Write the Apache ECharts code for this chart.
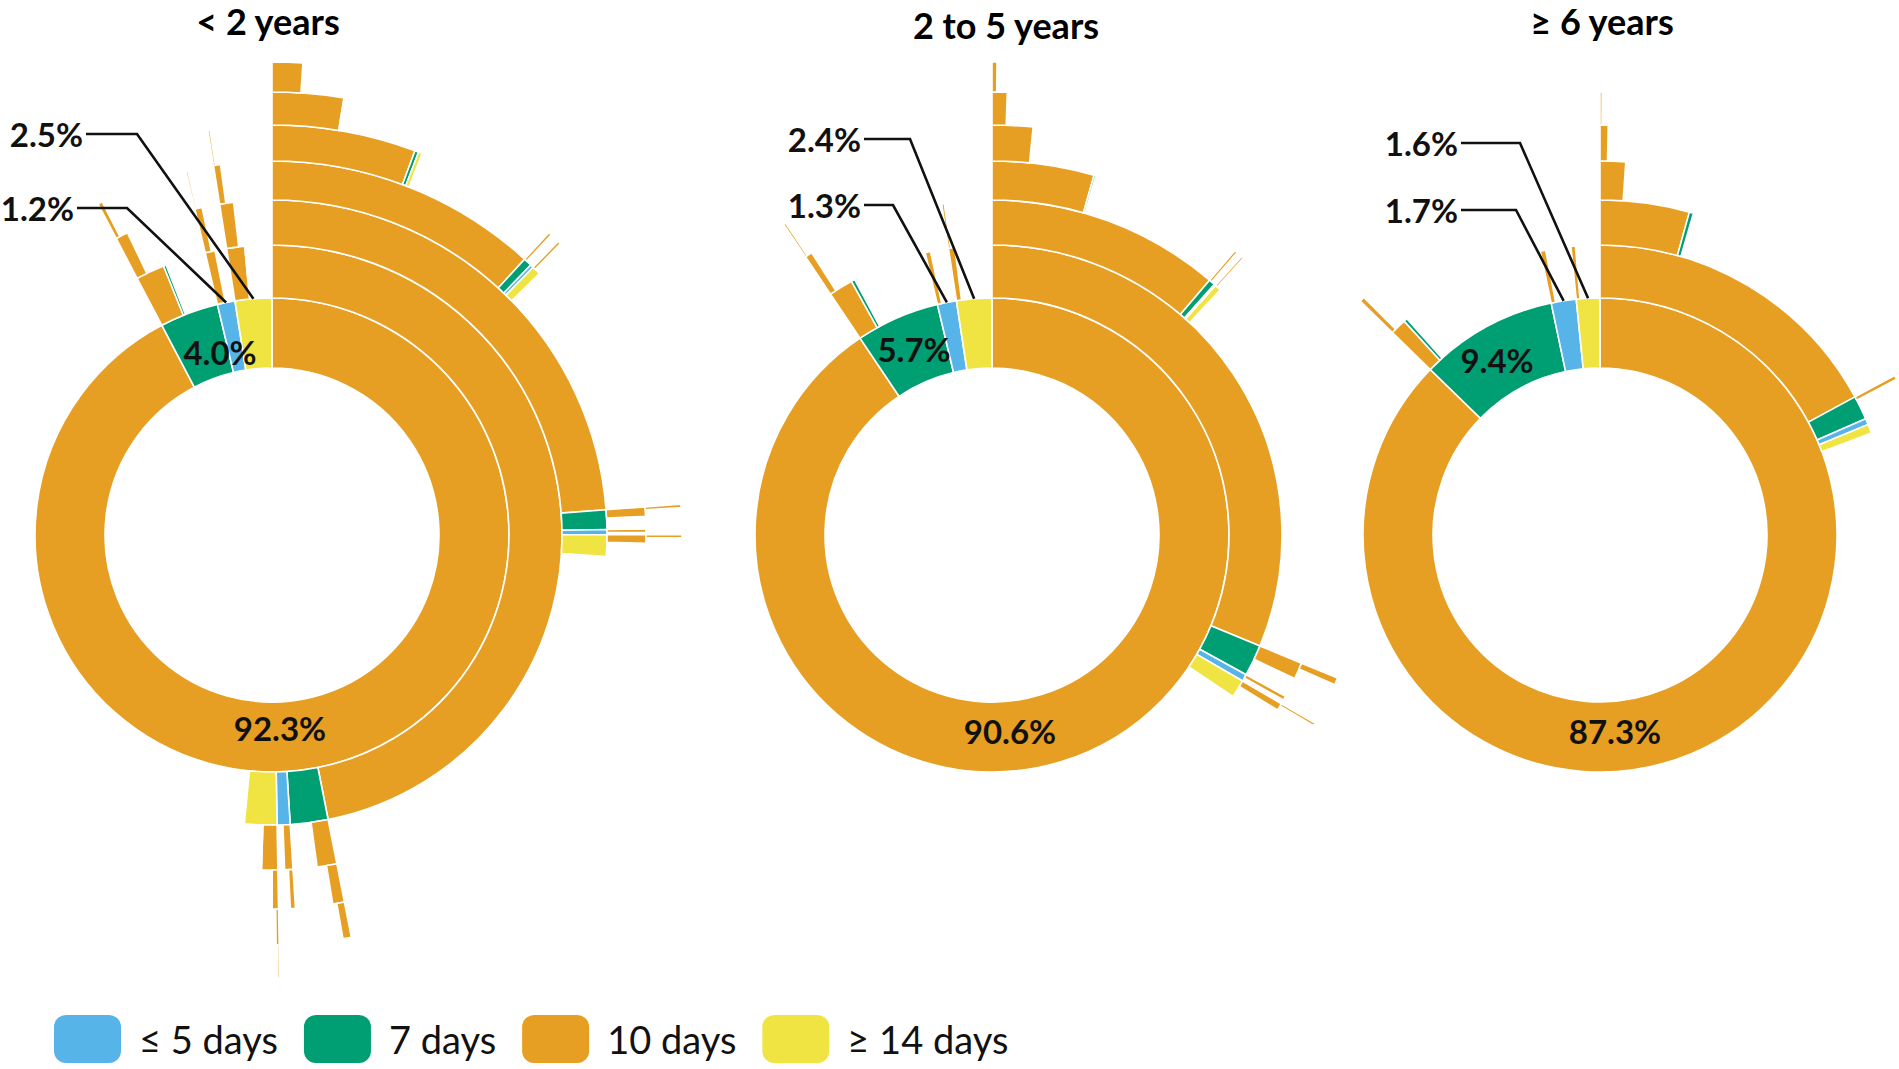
<!DOCTYPE html>
<html>
<head>
<meta charset="utf-8">
<script src="https://cdn.jsdelivr.net/npm/echarts@6/dist/echarts.min.js"></script>
<style>
html,body{margin:0;padding:0;background:#fff;}
#c{width:1899px;height:1069px;}
</style>
</head>
<body>
<div id="c"></div>
<script>
// ---------- DATA ----------
const categories = ['≤ 5 days', '7 days', '10 days', '≥ 14 days'];
const codes = ['S', 'W', 'T', 'L']; // S: ≤5 days, W: 7 days, T: 10 days, L: ≥14 days
const panelTitles = ['< 2 years', '2 to 5 years', '≥ 6 years'];

// Sequences of prescription durations (first.second.third...) and share (%) of all children
const paths1 = [
  'T','W','S','L',
  'T.T','T.W','T.S','T.L',
  'T.T.T','T.T.W','T.T.S','T.T.L',
  'T.T.T.T','T.T.T.W','T.T.T.S','T.T.T.L',
  'T.T.T.T.T','T.T.T.T.W','T.T.T.T.L',
  'T.T.T.T.T.T','T.T.T.T.T.W',
  'T.T.T.T.T.T.T',
  'T.T.T.W.T','T.T.T.S.T','T.T.T.L.T','T.T.T.L.T.T','T.T.T.T.W.T',
  'T.T.W.T','T.T.W.T.T','T.T.S.T','T.T.S.T.T','T.T.L.T','T.T.L.T.T',
  'T.W.T','T.W.T.T','T.W.T.T.T','T.S.T','T.S.T.T',
  'T.L.T','T.L.L','T.L.T.T','T.L.T.T.T','T.L.T.T.T.T',
  'W.T','W.W','W.T.T','W.T.T.T','W.T.T.T.T',
  'S.T','S.T.T','S.T.T.T',
  'L.T','L.L','L.T.T','L.T.T.T','L.T.T.T.T'
];
const shares1 = [
  92.3, 4.0, 1.2, 2.5,
  46.9, 2.1, 0.72, 1.8,
  23.8, 0.94, 0.25, 1.03,
  11.8, 0.36, 0.14, 0.38,
  5.67, 0.15, 0.15,
  2.6, 0.06,
  1.04,
  0.12, 0.04, 0.12, 0.05, 0.05,
  0.4, 0.13, 0.14, 0.03, 0.36, 0.12,
  0.95, 0.5, 0.33, 0.4, 0.22,
  0.78, 0.06, 0.27, 0.12, 0.07,
  1.6, 0.15, 0.6, 0.2, 0.06,
  0.55, 0.35, 0.08,
  1.0, 0.08, 0.67, 0.3, 0.08
];

const paths2 = [
  'T','W','S','L',
  'T.T','T.W','T.S','T.L',
  'T.T.T','T.T.W','T.T.S','T.T.L',
  'T.T.T.T','T.T.T.W',
  'T.T.T.T.T','T.T.T.T.T.T','T.T.T.T.T.T.T',
  'T.T.W.T','T.T.W.T.T','T.T.L.T','T.T.L.T.T',
  'T.W.T','T.W.T.T','T.S.T','T.L.T','T.L.T.T',
  'W.T','W.W','W.T.T','W.T.T.T',
  'S.T','S.T.T',
  'L.T','L.T.T','L.T.T.T'
];
const shares2 = [
  90.6, 5.7, 1.3, 2.4,
  31.25, 1.75, 0.4, 1.0,
  11.25, 0.3, 0.08, 0.3,
  4.4, 0.08,
  1.6, 0.55, 0.17,
  0.12, 0.04, 0.1, 0.04,
  0.8, 0.3, 0.2, 0.35, 0.12,
  1.35, 0.2, 0.35, 0.1,
  0.3, 0.05,
  0.35, 0.12, 0.04
];

const paths3 = [
  'T','W','S','L',
  'T.T','T.W','T.S','T.L',
  'T.T.T','T.T.W',
  'T.T.T.T','T.T.T.T.T','T.T.T.T.T.T',
  'T.W.T',
  'W.T','W.W','W.T.T',
  'S.T','L.T'
];
const shares3 = [
  87.3, 9.4, 1.7, 1.6,
  17.1, 1.33, 0.35, 0.5,
  4.3, 0.2,
  1.1, 0.32, 0.08,
  0.2,
  0.9, 0.2, 0.25,
  0.3, 0.25
];

// ---------- STYLE / LAYOUT ----------
const colors = ['#56B4E9', '#009E73', '#E69F22', '#F0E442'];
const centers = [[272, 535], [992, 535], [1600, 535]];
const ringRadii = [[167, 237], [237, 290], [290, 335], [335, 374], [374, 410], [410, 443], [443, 473]];
const titleSpots = [[268, 21], [1006, 25], [1602, 21]];
// label placement for first ring (order of first-level entries); knee = leader line bend
const labelSpots = [
  [{x: 280, y: 728}, {x: 220, y: 352}, {x: 74, y: 208, knee: 127}, {x: 83, y: 134, knee: 137}],
  [{x: 1010, y: 731}, {x: 914, y: 349}, {x: 861, y: 205, knee: 893}, {x: 861, y: 139, knee: 910}],
  [{x: 1615, y: 731}, {x: 1497, y: 360}, {x: 1458, y: 210, knee: 1516}, {x: 1458, y: 143, knee: 1520}]
];
const FONT = 'Lato, "Open Sans", sans-serif';

function buildTree(paths, shares) {
  const root = {children: []};
  const map = {'': root};
  paths.forEach(function (p, i) {
    const parts = p.split('.');
    const code = parts[parts.length - 1];
    const ci = codes.indexOf(code);
    const node = {name: categories[ci], value: shares[i], itemStyle: {color: colors[ci]}, children: []};
    map[p] = node;
    map[parts.slice(0, -1).join('.')].children.push(node);
  });
  return root.children;
}

const allPaths = [paths1, paths2, paths3];
const allShares = [shares1, shares2, shares3];

const series = [];
allPaths.forEach(function (paths, k) {
  series.push({
    type: 'sunburst',
    center: centers[k],
    radius: [0, 473],
    sort: null,
    nodeClick: false,
    startAngle: 90,
    clockwise: true,
    data: buildTree(paths, allShares[k]),
    itemStyle: {borderColor: '#ffffff', borderWidth: 1.6},
    label: {show: false},
    emphasis: {focus: 'none'},
    levels: [{}].concat(ringRadii.map(function (r) { return {r0: r[0], r: r[1], label: {show: false}}; }))
  });
});

allPaths.forEach(function (paths, k) {
  const spots = labelSpots[k];
  const data = [];
  paths.forEach(function (p, i) {
    if (p.indexOf('.') >= 0) return;
    const ci = codes.indexOf(p);
    const spot = spots[data.length];
    const inside = spot.knee == null;
    data.push({
      name: categories[ci],
      value: allShares[k][i],
      label: {position: inside ? 'inside' : 'outside'},
      labelLine: {show: !inside}
    });
  });
  series.push({
    type: 'pie',
    center: centers[k],
    radius: [ringRadii[0][0], ringRadii[0][1]],
    startAngle: 90,
    clockwise: true,
    silent: true,
    avoidLabelOverlap: false,
    z: 5,
    itemStyle: {color: 'rgba(0,0,0,0)', borderWidth: 0},
    emphasis: {disabled: true},
    label: {
      show: true,
      fontFamily: FONT,
      fontWeight: 'bold',
      fontSize: 33,
      color: '#111111',
      formatter: function (prm) { return prm.value.toFixed(1) + '%'; }
    },
    labelLine: {show: true, length: 10, length2: 10, smooth: false, lineStyle: {color: '#111111', width: 2.6}},
    labelLayout: function (prm) {
      const s = spots[prm.dataIndex];
      if (s.knee == null) {
        return {x: s.x, y: s.y, align: 'center', verticalAlign: 'middle'};
      }
      const a = prm.labelLinePoints ? prm.labelLinePoints[0] : [s.knee, s.y];
      return {
        x: s.x, y: s.y, align: 'right', verticalAlign: 'middle',
        labelLinePoints: [a, [s.knee, s.y], [s.x + 3, s.y]]
      };
    },
    data: data
  });
});

const chart = echarts.init(document.getElementById('c'), null, {renderer: 'svg', width: 1899, height: 1069});
chart.setOption({
  animation: false,
  backgroundColor: '#ffffff',
  title: panelTitles.map(function (t, i) {
    return {
      text: t,
      left: titleSpots[i][0],
      top: titleSpots[i][1],
      textAlign: 'center',
      textVerticalAlign: 'middle',
      padding: 0,
      textStyle: {fontFamily: FONT, fontWeight: 'bold', fontSize: 36, color: '#000000'}
    };
  }),
  legend: {
    left: 54,
    top: 1015,
    padding: 0,
    orient: 'horizontal',
    itemWidth: 67,
    itemHeight: 48,
    itemGap: 26,
    icon: 'roundRect',
    selectedMode: false,
    data: categories.map(function (c, i) { return {name: c, itemStyle: {color: colors[i]}}; }),
    textStyle: {fontFamily: FONT, fontSize: 38, color: '#111111', padding: [0, 0, 0, 13]}
  },
  series: series
});
</script>
</body>
</html>
